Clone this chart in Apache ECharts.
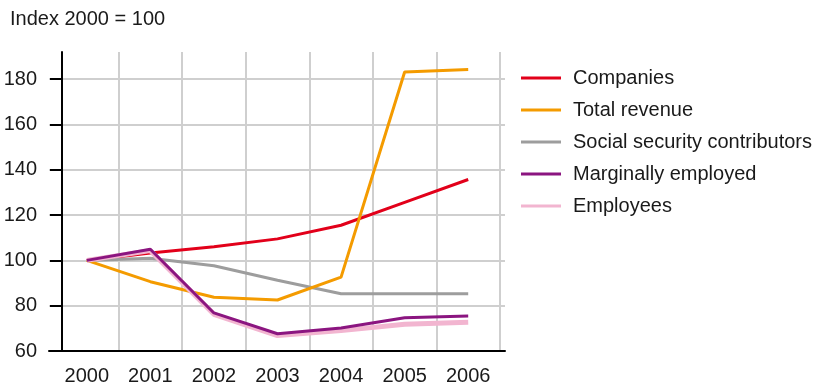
<!DOCTYPE html>
<html>
<head>
<meta charset="utf-8">
<script src="https://cdn.jsdelivr.net/npm/echarts@6/dist/echarts.min.js"></script>
<style>html,body{margin:0;padding:0;background:#fff;}#c{width:813px;height:389px;}</style>
</head>
<body>
<div id="c"></div>
<script>
const years = ['2000','2001','2002','2003','2004','2005','2006'];
const companies = [100, 103.3, 106, 109.5, 115.5, 125.6, 135.7];
const totalRevenue = [100, 90.6, 83.7, 82.5, 92.6, 183.2, 184.3];
const socialSecurity = [100, 100.9, 97.6, 91.2, 85.3, 85.3, 85.3];
const marginallyEmployed = [100, 104.9, 76.8, 67.6, 70.2, 74.7, 75.4];
const employees = [100, 104.3, 76.2, 66.8, 69.0, 71.8, 72.7];
const yTicks = [60, 80, 100, 120, 140, 160, 180];

const FONT = '"Liberation Sans", Arial, sans-serif';
const TXT = '#1a1a1a';
const GRIDC = '#cfcfcf';

const chart = echarts.init(document.getElementById('c'), null, {renderer: 'canvas'});
chart.setOption({
  animation: false,
  backgroundColor: '#fff',
  textStyle: {fontFamily: FONT},
  title: {
    text: 'Index 2000 = 100', left: 10, top: 9, padding: 0,
    textStyle: {fontFamily: FONT, fontSize: 20, fontWeight: 'normal', color: TXT}
  },
  legend: {
    orient: 'vertical', left: 521, top: 68, padding: 0,
    itemWidth: 40, itemHeight: 3, itemGap: 12, icon: 'rect',
    data: ['Companies', 'Total revenue', 'Social security contributors', 'Marginally employed', 'Employees'],
    textStyle: {fontFamily: FONT, fontSize: 20, color: TXT, lineHeight: 20, padding: [0, 0, 0, 7]}
  },
  grid: [
    {left: 55, right: 313, top: 52, bottom: 38, containLabel: false},
    {left: 49, right: 308, top: 52, bottom: 38, containLabel: false}
  ],
  xAxis: [
    {
      type: 'category', gridIndex: 0, data: years, boundaryGap: true,
      axisLine: {show: false}, axisTick: {show: false},
      axisLabel: {fontFamily: FONT, fontSize: 20, color: TXT, margin: 15},
      splitLine: {show: true, showMinLine: false, lineStyle: {color: GRIDC, width: 2}}
    },
    {
      type: 'value', gridIndex: 1, min: 0, max: 1,
      axisLine: {show: true, lineStyle: {color: '#000', width: 2}},
      axisTick: {show: false}, axisLabel: {show: false}, splitLine: {show: false}
    }
  ],
  yAxis: [
    {
      type: 'value', gridIndex: 0, min: 60, max: 192, interval: 20, offset: -7,
      axisLine: {show: true, lineStyle: {color: '#000', width: 2}},
      axisTick: {show: true, inside: false, length: 12, customValues: yTicks, lineStyle: {color: '#000', width: 2}},
      axisLabel: {fontFamily: FONT, fontSize: 20, color: TXT, margin: 25, customValues: yTicks},
      splitLine: {show: false}
    },
    {
      type: 'value', gridIndex: 1, min: 60, max: 192, interval: 20,
      axisLine: {show: false}, axisTick: {show: false}, axisLabel: {show: false},
      splitLine: {show: true, showMinLine: false, showMaxLine: false, lineStyle: {color: GRIDC, width: 2}}
    }
  ],
  series: [
    {name: 'Companies', type: 'line', data: companies, symbol: 'none', color: '#e2001a', lineStyle: {width: 3}},
    {name: 'Social security contributors', type: 'line', data: socialSecurity, symbol: 'none', color: '#9d9d9d', lineStyle: {width: 3}},
    {name: 'Total revenue', type: 'line', data: totalRevenue, symbol: 'none', color: '#f49b00', lineStyle: {width: 3}},
    {name: 'Employees', type: 'line', data: employees, symbol: 'none', color: '#f2b5d0', lineStyle: {width: 5}},
    {name: 'Marginally employed', type: 'line', data: marginallyEmployed, symbol: 'none', color: '#8b1580', lineStyle: {width: 3}}
  ]
});
</script>
</body>
</html>
